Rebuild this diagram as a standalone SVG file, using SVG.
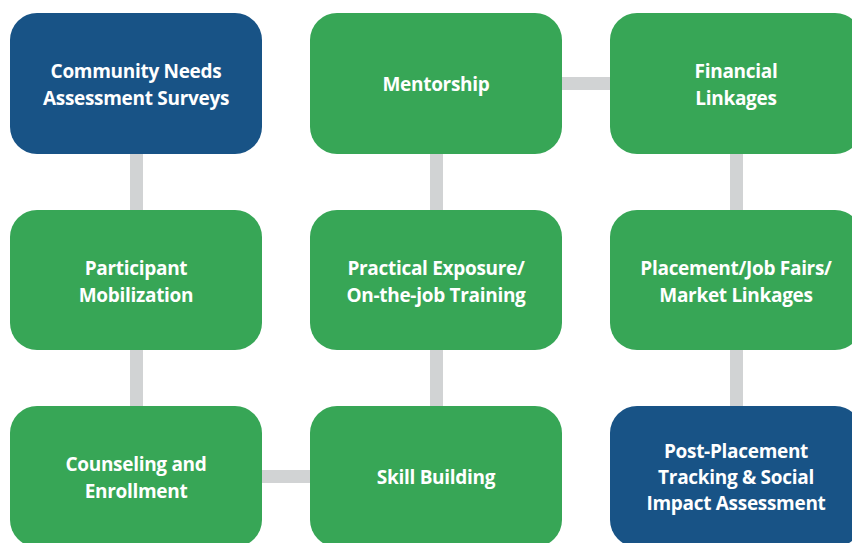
<svg xmlns="http://www.w3.org/2000/svg" width="852" height="543" viewBox="0 0 852 543">
<style>
.node rect{stroke:none}
.blue rect{fill:#185386}
.green rect{fill:#37a656}
.lbl{font-family:"Open Sans","Noto Sans",sans-serif;font-weight:700;font-size:19px;letter-spacing:-0.3px;fill:#ffffff;text-anchor:middle}
.conn{stroke:#d1d3d4;stroke-width:13;fill:none}
</style>
<rect width="852" height="543" fill="#ffffff"/>
<g id="connectors">
<line class="conn" x1="136.5" y1="150" x2="136.5" y2="214"/>
<line class="conn" x1="136.5" y1="346" x2="136.5" y2="410"/>
<line class="conn" x1="258" y1="476.5" x2="314" y2="476.5"/>
<line class="conn" x1="436.5" y1="346" x2="436.5" y2="410"/>
<line class="conn" x1="436.5" y1="150" x2="436.5" y2="214"/>
<line class="conn" x1="558" y1="83.5" x2="614" y2="83.5"/>
<line class="conn" x1="736.5" y1="150" x2="736.5" y2="214"/>
<line class="conn" x1="736.5" y1="346" x2="736.5" y2="410"/>
</g>
<g id="n1" class="node blue"><rect x="10" y="13" width="252" height="141" rx="27"/>
<text class="lbl" x="136" y="78">Community Needs</text><text class="lbl" x="136" y="105">Assessment Surveys</text></g>
<g id="n2" class="node green"><rect x="310" y="13" width="252" height="141" rx="27"/>
<text class="lbl" x="436" y="91">Mentorship</text></g>
<g id="n3" class="node green"><rect x="610" y="13" width="252" height="141" rx="27"/>
<text class="lbl" x="736" y="78">Financial</text><text class="lbl" x="736" y="105">Linkages</text></g>
<g id="n4" class="node green"><rect x="10" y="210" width="252" height="140" rx="27"/>
<text class="lbl" x="136" y="275">Participant</text><text class="lbl" x="136" y="302">Mobilization</text></g>
<g id="n5" class="node green"><rect x="310" y="210" width="252" height="140" rx="27"/>
<text class="lbl" x="436" y="275">Practical Exposure/</text><text class="lbl" x="436" y="302">On-the-job Training</text></g>
<g id="n6" class="node green"><rect x="610" y="210" width="252" height="140" rx="27"/>
<text class="lbl" x="736" y="275">Placement/Job Fairs/</text><text class="lbl" x="736" y="302">Market Linkages</text></g>
<g id="n7" class="node green"><rect x="10" y="406" width="252" height="141" rx="27"/>
<text class="lbl" x="136" y="471">Counseling and</text><text class="lbl" x="136" y="498">Enrollment</text></g>
<g id="n8" class="node green"><rect x="310" y="406" width="252" height="141" rx="27"/>
<text class="lbl" x="436" y="484">Skill Building</text></g>
<g id="n9" class="node blue"><rect x="610" y="406" width="252" height="141" rx="27"/>
<text class="lbl" x="736" y="458">Post-Placement</text><text class="lbl" x="736" y="484">Tracking &amp; Social</text><text class="lbl" x="736" y="510">Impact Assessment</text></g>
</svg>
